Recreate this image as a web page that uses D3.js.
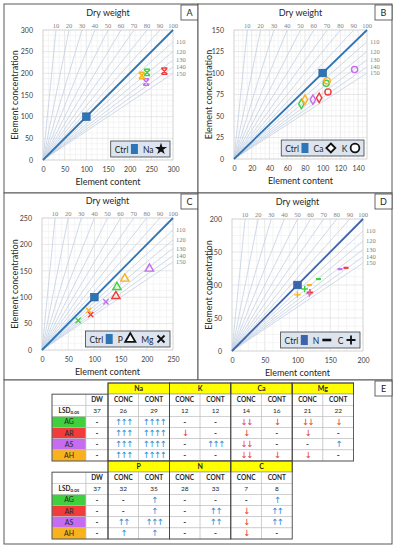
<!DOCTYPE html>
<html lang="en-US">
<head>
<meta charset="UTF-8">
<title>Vector nomograms</title>
<script src="https://d3js.org/d3.v7.min.js"></script>
<style>
  body { margin: 0; background: #fff; }
  svg text { font-family: Lato, "Liberation Sans", sans-serif; fill: #262626; }
  .tick text { font-size: 7px; fill: #404040; }
  .dwlab { font-family: "Liberation Serif", "DejaVu Serif", serif !important; font-size: 6.5px; fill: #7f7f7f !important; }
  .arrow { font-family: "DejaVu Sans", sans-serif !important; }
</style>
</head>
<body>
<script>

// ---- data ----
var groups = ["AG", "AR", "AS", "AH"];
var groupColors = ["#3fcf3f", "#f23b3b", "#c56cf0", "#f8b21c"];
var dwLines = [10, 20, 30, 40, 50, 60, 70, 80, 90, 100, 110, 120, 130, 140, 150];

// panel A
var naContent = [240, 280, 238, 228];
var naConc = [202, 205, 180, 195];
// panel B
var kContent = [104, 106, 136, 105];
var kConc = [88, 78, 104, 91];
var caContent = [76, 96, 89, 80];
var caConc = [64, 71, 69, 69];
// panel C
var pContent = [143, 141, 205, 158];
var pConc = [119, 102, 154, 135];
var mgContent = [69, 93, 122, 89];
var mgConc = [56, 67, 91, 75];
// panel D
var nContent = [132, 174, 165, 118];
var nConc = [109, 126, 124, 100];
var cContent = [111, 119, 118, 100];
var cConc = [94, 89, 87, 85];

// table E
var topElements = ["Na", "K", "Ca", "Mg"];
var botElements = ["P", "N", "C"];
var subHeads = ["CONC", "CONT"];
var topLsd = ["37", "26", "29", "12", "12", "14", "16", "21", "22"];
var topAG = ["-", "↑↑↑", "↑↑↑↑", "-", "-", "↓↓", "↓", "↓↓", "↓"];
var topAR = ["-", "↑↑↑", "↑↑↑↑", "↓", "-", "↓", "-", "↓", "-"];
var topAS = ["-", "↑↑↑", "↑↑↑↑", "-", "↑↑↑", "↓↓", "-", "-", "↑"];
var topAH = ["-", "↑↑↑", "↑↑↑↑", "-", "-", "↓↓", "↓", "↓", "-"];
var botLsd = ["37", "32", "35", "28", "33", "7", "8"];
var botAG = ["-", "-", "↑", "-", "-", "-", "↑"];
var botAR = ["-", "-", "↑", "-", "↑↑", "↓", "↑↑"];
var botAS = ["-", "↑↑", "↑↑↑", "-", "↑↑", "↓", "↑↑"];
var botAH = ["-", "↑", "↑", "-", "-", "↓", "-"];

// ---- markers ----
var markerPaths = {
  star: "M-3,-3L3,3M3,-3L-3,3M-3,-3.2H3M-3,3.2H3",
  circle: d3.symbol(d3.symbolCircle, 30)(),
  diamond: d3.symbol(d3.symbolDiamond, 26)(),
  triangle: d3.symbol(d3.symbolTriangle, 30)(),
  times: "M-2.6,-2.6L2.6,2.6M2.6,-2.6L-2.6,2.6",
  minus: "M-2.5,0H2.5",
  plus: "M-3.2,0H3.2M0,-3.2V3.2"
};
var legendPaths = {
  star: d3.symbol(d3.symbolStar, 45)(),
  circle: d3.symbol(d3.symbolCircle, 60)(),
  diamond: "M0,-4.5L4.5,0L0,4.5L-4.5,0Z",
  triangle: d3.symbol(d3.symbolTriangle, 45)(),
  times: "M-3.5,-3.5L3.5,3.5M3.5,-3.5L-3.5,3.5",
  minus: "M-4.5,0H4.5",
  plus: "M-4.5,0H4.5M0,-4.5V4.5"
};

var panels = [
  {key: "A", box: [4, 4, 194, 189], plot: [43, 30, 130, 130], xMax: 300, yMax: 300,
   xTicks: d3.range(0, 301, 50), yTicks: d3.range(0, 301, 50), diag: "#2e75b6",
   series: [{name: "Na", content: naContent, conc: naConc, marker: "star"}]},
  {key: "B", box: [198, 4, 194, 189], plot: [234, 30, 133, 129], xMax: 150, yMax: 150,
   xTicks: d3.range(0, 141, 20), yTicks: d3.range(0, 151, 25), diag: "#2e75b6",
   series: [{name: "Ca", content: caContent, conc: caConc, marker: "diamond"},
            {name: "K", content: kContent, conc: kConc, marker: "circle"}]},
  {key: "C", box: [4, 193, 194, 187], plot: [42, 218, 131, 132], xMax: 250, yMax: 250,
   xTicks: d3.range(0, 251, 50), yTicks: d3.range(0, 251, 50), diag: "#2e75b6",
   series: [{name: "P", content: pContent, conc: pConc, marker: "triangle"},
            {name: "Mg", content: mgContent, conc: mgConc, marker: "times"}]},
  {key: "D", box: [198, 193, 194, 187], plot: [232, 219, 131, 132], xMax: 200, yMax: 200,
   xTicks: d3.range(0, 201, 50), yTicks: d3.range(0, 201, 50), diag: "#3d63ad",
   series: [{name: "N", content: nContent, conc: nConc, marker: "minus"},
            {name: "C", content: cContent, conc: cConc, marker: "plus"}]}
];

var svg = d3.select("body").append("svg")
    .attr("width", 396)
    .attr("height", 550);

function letterBox(g, right, top, letter) {
  g.append("rect").attr("x", right - 17).attr("y", top).attr("width", 17).attr("height", 15)
      .attr("fill", "#fff").attr("stroke", "#404040").attr("stroke-width", 0.8);
  g.append("text").attr("x", right - 8.5).attr("y", top + 11)
      .attr("text-anchor", "middle").style("font-size", "9px").text(letter);
}

panels.forEach(function(p) {
  var g = svg.append("g");
  var b = p.box, pl = p.plot;
  g.append("rect").attr("x", b[0]).attr("y", b[1]).attr("width", b[2]).attr("height", b[3])
      .attr("fill", "#fff").attr("stroke", "#595959").attr("stroke-width", 1);

  var x = d3.scaleLinear().domain([0, p.xMax]).range([pl[0], pl[0] + pl[2]]);
  var y = d3.scaleLinear().domain([0, p.yMax]).range([pl[1] + pl[3], pl[1]]);

  // grid
  var xStep = p.xTicks[1], yStep = p.yTicks[1];
  g.append("g").selectAll("line").data(d3.range(xStep / 4, p.xMax, xStep / 4)).enter().append("line")
      .attr("x1", d => x(d)).attr("x2", d => x(d)).attr("y1", y(0)).attr("y2", y(p.yMax))
      .attr("stroke", (d, i) => (i + 1) % 4 === 0 ? "#d9d9d9" : "#eeeeee").attr("stroke-width", 0.6);
  g.append("g").selectAll("line").data(d3.range(yStep / 4, p.yMax, yStep / 4)).enter().append("line")
      .attr("y1", d => y(d)).attr("y2", d => y(d)).attr("x1", x(0)).attr("x2", x(p.xMax))
      .attr("stroke", (d, i) => (i + 1) % 4 === 0 ? "#d9d9d9" : "#eeeeee").attr("stroke-width", 0.6);
  g.append("rect").attr("x", pl[0]).attr("y", pl[1]).attr("width", pl[2]).attr("height", pl[3])
      .attr("fill", "none").attr("stroke", "#bfbfbf").attr("stroke-width", 0.7);

  // dry-weight fan lines: conc = content * 100 / dw
  function endPoint(dw) {
    var c = Math.min(p.xMax, p.yMax * dw / 100);
    return [c, c * 100 / dw];
  }
  g.append("g").selectAll("line").data(dwLines.filter(d => d !== 100)).enter().append("line")
      .attr("x1", x(0)).attr("y1", y(0))
      .attr("x2", d => x(endPoint(d)[0])).attr("y2", d => y(endPoint(d)[1]))
      .attr("stroke", "#c3d1e3").attr("stroke-width", 0.8);
  g.append("line")
      .attr("x1", x(0)).attr("y1", y(0))
      .attr("x2", x(endPoint(100)[0])).attr("y2", y(endPoint(100)[1]))
      .attr("stroke", p.diag).attr("stroke-width", 1.8);

  // dry-weight labels
  g.append("g").selectAll("text").data(dwLines.filter(d => d <= 100)).enter().append("text")
      .attr("class", "dwlab")
      .attr("x", d => x(p.yMax * d / 100)).attr("y", pl[1] - 2.5)
      .attr("text-anchor", "middle").text(d => d);
  g.append("g").selectAll("text").data(dwLines.filter(d => d > 100)).enter().append("text")
      .attr("class", "dwlab")
      .attr("x", pl[0] + pl[2] + 3).attr("y", d => y(p.xMax * 100 / d)).attr("dy", "0.35em")
      .text(d => d);

  // axes
  var ax = g.append("g").attr("transform", "translate(0," + (pl[1] + pl[3]) + ")")
      .call(d3.axisBottom(x).tickValues(p.xTicks).tickSize(0).tickPadding(7));
  var ay = g.append("g").attr("transform", "translate(" + pl[0] + ",0)")
      .call(d3.axisLeft(y).tickValues(p.yTicks).tickSize(0).tickPadding(10));
  ax.select(".domain").remove();
  ay.select(".domain").remove();

  g.append("text").attr("x", pl[0] + pl[2] / 2).attr("y", pl[1] - 14.5)
      .attr("text-anchor", "middle").style("font-size", "9px").text("Dry weight");
  g.append("text").attr("x", pl[0] + pl[2] / 2).attr("y", pl[1] + pl[3] + 25)
      .attr("text-anchor", "middle").style("font-size", "9px").text("Element content");
  g.append("text")
      .attr("transform", "translate(" + (b[0] + 14) + "," + (pl[1] + pl[3] / 2) + ") rotate(-90)")
      .attr("text-anchor", "middle").style("font-size", "9px").text("Element concentration");

  // treatment points
  p.series.forEach(function(s) {
    g.append("g").selectAll("path").data(groups).enter().append("path")
        .attr("transform", (d, i) => "translate(" + x(s.content[i]) + "," + y(s.conc[i]) + ")")
        .attr("d", markerPaths[s.marker])
        .attr("fill", "none")
        .attr("stroke", (d, i) => groupColors[i])
        .attr("stroke-width", s.marker === "minus" ? 2.2 : 1.4);
  });
  // control
  g.append("rect").attr("x", x(100) - 3.8).attr("y", y(100) - 3.8).attr("width", 7.6).attr("height", 7.6)
      .attr("fill", p.diag).attr("stroke", "#1f5c99").attr("stroke-width", 0.6);

  // legend
  var lg = g.append("g");
  var items = [{t: "Ctrl"}, {ctrl: true}];
  p.series.forEach(function(s) { items.push({t: s.name}); items.push({m: s.marker}); });
  var cx = 4;
  var lbox = lg.append("rect").attr("height", 16).attr("fill", "#dce4ef")
      .attr("stroke", "#404040").attr("stroke-width", 0.8);
  items.forEach(function(it) {
    if (it.t) {
      var t = lg.append("text").attr("x", cx).attr("y", 11.5).style("font-size", "8.5px").text(it.t);
      cx += t.node().getComputedTextLength() + 2.5;
    } else if (it.ctrl) {
      lg.append("rect").attr("x", cx).attr("y", 3).attr("width", 7).attr("height", 10)
          .attr("fill", p.diag);
      cx += 7 + 5;
    } else {
      lg.append("path").attr("transform", "translate(" + (cx + 5) + ",8)")
          .attr("d", legendPaths[it.m])
          .attr("fill", it.m === "star" ? "#111" : "#fff")
          .attr("stroke", "#111")
          .attr("stroke-width", it.m === "star" ? 0 : (it.m === "minus" ? 2.6 : 1.8));
      cx += 10 + 6;
    }
  });
  var lw = cx - 2;
  lbox.attr("width", lw);
  lg.attr("transform", "translate(" + (pl[0] + pl[2] - 3 - lw) + "," + (pl[1] + pl[3] - 19) + ")");

  letterBox(g, b[0] + b[2], b[1] + 1, p.key);
});

// ---- panel E: table ----
var eg = svg.append("g");
eg.append("rect").attr("x", 4).attr("y", 380).attr("width", 388).attr("height", 164)
    .attr("fill", "#fff").attr("stroke", "#595959").attr("stroke-width", 1);
letterBox(eg, 392, 381, "E");

var colX = d3.scaleBand().domain(d3.range(8)).range([108, 353.6]);
var labelX = [52, 86], dwX = [86, 108];
var rowKeys = ["head", "sub", "lsd"].concat(groups);

function isArrow(v) { return /[↑↓]/.test(v); }

function drawTable(top, elements, lsd, rowsData) {
  var rowY = d3.scaleBand().domain(rowKeys).range([top, top + 78]);
  var nCols = elements.length * 2;
  var tg = eg.append("g");
  var rh = rowY.bandwidth();

  // header: element names
  tg.selectAll(".eh").data(elements).enter().append("rect")
      .attr("x", (d, i) => colX(i * 2)).attr("y", rowY("head"))
      .attr("width", colX.bandwidth() * 2).attr("height", rh)
      .attr("fill", "#ffff00").attr("stroke", "#404040").attr("stroke-width", 0.8);
  tg.selectAll(".et").data(elements).enter().append("text")
      .attr("x", (d, i) => colX(i * 2) + colX.bandwidth()).attr("y", rowY("head") + rh / 2)
      .attr("dy", "0.35em").attr("text-anchor", "middle")
      .style("font-size", "7px").style("font-weight", "bold").text(d => d);

  // body rows
  var body = [{key: "sub", vals: ["DW"].concat(d3.range(nCols).map(i => subHeads[i % 2]))},
              {key: "lsd", vals: lsd}];
  groups.forEach(function(gr, i) { body.push({key: gr, vals: rowsData[i]}); });

  body.forEach(function(r) {
    var yy = rowY(r.key);
    var gi = groups.indexOf(r.key);
    tg.append("rect").attr("x", labelX[0]).attr("y", yy).attr("width", labelX[1] - labelX[0]).attr("height", rh)
        .attr("fill", gi >= 0 ? groupColors[gi] : "#fff").attr("stroke", "#bfbfbf").attr("stroke-width", 0.6);
    if (gi >= 0) {
      tg.append("text").attr("x", (labelX[0] + labelX[1]) / 2).attr("y", yy + rh / 2).attr("dy", "0.35em")
          .attr("text-anchor", "middle").style("font-size", "7px").text(r.key);
    } else if (r.key === "lsd") {
      var lt = tg.append("text").attr("x", (labelX[0] + labelX[1]) / 2).attr("y", yy + rh / 2).attr("dy", "0.3em")
          .attr("text-anchor", "middle").style("font-size", "6.5px").style("font-weight", "bold");
      lt.append("tspan").text("LSD");
      lt.append("tspan").attr("dy", "0.3em").style("font-size", "4.5px").text("0.05");
    }
    var cells = r.vals.map(function(v, i) {
      return i === 0 ? {v: v, x0: dwX[0], w: dwX[1] - dwX[0]} : {v: v, x0: colX(i - 1), w: colX.bandwidth()};
    });
    var cg = tg.append("g").selectAll("g").data(cells).enter().append("g");
    cg.append("rect").attr("x", d => d.x0).attr("y", yy).attr("width", d => d.w).attr("height", rh)
        .attr("fill", "#fff").attr("stroke", "#bfbfbf").attr("stroke-width", 0.6);
    cg.append("text")
        .attr("class", d => isArrow(d.v) ? "arrow" : null)
        .attr("x", d => d.x0 + d.w / 2).attr("y", yy + rh / 2).attr("dy", "0.36em")
        .attr("text-anchor", "middle")
        .style("font-size", d => isArrow(d.v) ? "8.5px" : (d.v === "-" ? "8px" : "6.5px"))
        .style("font-weight", d => (r.key === "sub" || d.v === "-") ? "bold" : null)
        .style("letter-spacing", d => isArrow(d.v) ? "-1.5px" : null)
        .style("fill", d => /↑/.test(d.v) ? "#2f8ad6" : (/↓/.test(d.v) ? "#e8302c" : "#262626"))
        .text(d => d.v);
  });

  // group outlines
  var bodyTop = rowY("sub"), bodyBot = rowY(groups[3]) + rh;
  tg.append("rect").attr("x", labelX[0]).attr("y", bodyTop).attr("width", dwX[1] - labelX[0])
      .attr("height", bodyBot - bodyTop).attr("fill", "none").attr("stroke", "#404040").attr("stroke-width", 0.8);
  tg.selectAll(".go").data(elements).enter().append("rect")
      .attr("x", (d, i) => colX(i * 2)).attr("y", rowY("head"))
      .attr("width", colX.bandwidth() * 2).attr("height", bodyBot - rowY("head"))
      .attr("fill", "none").attr("stroke", "#404040").attr("stroke-width", 0.8);
}

drawTable(383, topElements, topLsd, [topAG, topAR, topAS, topAH]);
drawTable(461, botElements, botLsd, [botAG, botAR, botAS, botAH]);

</script>
</body>
</html>
